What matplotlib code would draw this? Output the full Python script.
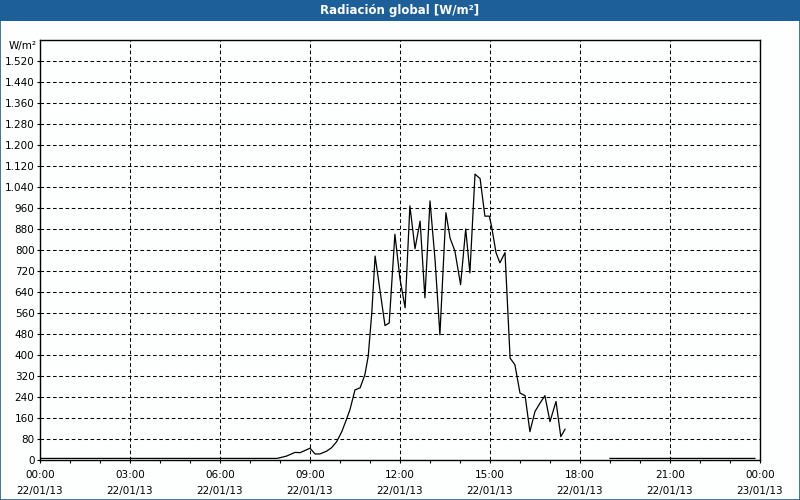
import matplotlib
matplotlib.use("Agg")
import matplotlib.pyplot as plt
import numpy as np
from matplotlib.patches import Rectangle
from matplotlib.ticker import MultipleLocator

# radiation readings (hour of day, W/m2); NaN marks the gap in the record
hours = [0.0, 7.9, 8.22, 8.5, 8.67, 8.83, 9.0, 9.17, 9.33, 9.56, 9.72, 9.89,
         10.06, 10.2, 10.33, 10.5, 10.67, 10.83, 10.94, 11.06, 11.17, 11.5,
         11.64, 11.83, 12.0, 12.17, 12.33, 12.5, 12.67, 12.83, 13.0, 13.17,
         13.33, 13.53, 13.67, 13.83, 14.02, 14.19, 14.33, 14.5, 14.67, 14.83,
         14.98, 15.06, 15.2, 15.33, 15.5, 15.67, 15.83, 16.0, 16.17, 16.33,
         16.5, 16.67, 16.83, 17.0, 17.2, 17.36, 17.5, 18.0, 19.0, 23.83]
radiation = [6, 6, 15, 29, 28, 36, 45, 23, 23, 34, 47, 70,
             108, 150, 191, 267, 275, 325, 395, 561, 777, 512,
             522, 860, 690, 580, 968, 805, 910, 618, 987, 760,
             477, 942, 845, 796, 668, 880, 713, 1089, 1072, 929,
             929, 885, 790, 751, 790, 388, 363, 255, 245, 108,
             185, 217, 245, 146, 223, 89, 117, np.nan, 6, 6]

x_ticks = [0, 3, 6, 9, 12, 15, 18, 21, 24]
x_labels = ["00:00\n22/01/13", "03:00\n22/01/13", "06:00\n22/01/13",
            "09:00\n22/01/13", "12:00\n22/01/13", "15:00\n22/01/13",
            "18:00\n22/01/13", "21:00\n22/01/13", "00:00\n23/01/13"]
y_ticks = list(range(0, 1521, 80))

bar_blue = "#1d5f98"

fig = plt.figure(figsize=(8, 5), dpi=100, facecolor="#fdfefe")

# title bar and window frame
fig.patches.append(Rectangle((0, 1 - 21 / 500), 1, 21 / 500, transform=fig.transFigure,
                             facecolor=bar_blue, edgecolor="none", zorder=0))
fig.patches.append(Rectangle((0.0006, 0.001), 0.9988, 0.998, transform=fig.transFigure,
                             facecolor="none", edgecolor=bar_blue, linewidth=1.2, zorder=5))
fig.text(0.5, 1 - 10.5 / 500, "Radiación global [W/m²]", color="white", ha="center",
         va="center", fontsize=8.5, fontweight="bold",
         family=["Liberation Sans Narrow", "DejaVu Sans"])

ax = fig.add_axes([40 / 800, 40 / 500, 720 / 800, 420 / 500])
ax.set_facecolor("#fdfefe")
ax.plot(hours, radiation, color="black", linewidth=0.9)

ax.set_xlim(0, 24)
ax.set_ylim(0, 1600)
ax.set_xticks(x_ticks)
ax.set_xticklabels(x_labels, fontsize=7.5, linespacing=1.65)
ax.xaxis.set_minor_locator(MultipleLocator(1))
ax.set_yticks(y_ticks)
ax.set_yticklabels([f"{v:,}".replace(",", ".") for v in y_ticks], fontsize=7.5)

ax.tick_params(axis="both", which="both", direction="out", length=2.5, width=0.8)
ax.tick_params(axis="x", pad=5)
ax.tick_params(axis="y", pad=1.5)

ax.grid(True, which="major", color="black", linewidth=0.75, linestyle=(0, (3.5, 2.5)))
for s in ax.spines.values():
    s.set_linewidth(1.0)

fig.text(9 / 800, 1 - 46 / 500, "W/m²", fontsize=7.5, ha="left", va="center")

fig.savefig("out.png", dpi=100, facecolor=fig.get_facecolor())
